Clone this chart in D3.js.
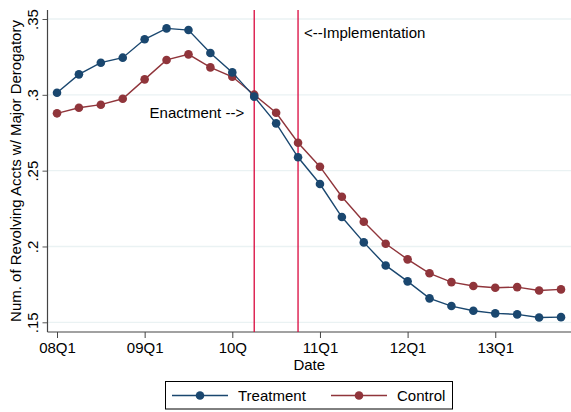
<!DOCTYPE html>
<html>
<head>
<meta charset="utf-8">
<script src="https://cdn.jsdelivr.net/npm/d3@7"></script>
<style>
  body { margin: 0; background: #fff; }
  text { font-family: "Liberation Sans", Arial, sans-serif; fill: #000; }
</style>
</head>
<body>
<svg id="vis"></svg>
<script>
const WIDTH = 571;
const HEIGHT = 412;

// quarters 08Q1 .. 13Q4
const quarters = d3.range(24);
const treatment = [0.3014, 0.3135, 0.3212, 0.3245, 0.3366, 0.3438, 0.3427, 0.3276,
                   0.3148, 0.2988, 0.2812, 0.2588, 0.2412, 0.2194, 0.2027, 0.1875,
                   0.1770, 0.1658, 0.1607, 0.1576, 0.1559, 0.1552, 0.1532, 0.1534];
const control = [0.2878, 0.2915, 0.2935, 0.2974, 0.3102, 0.3230, 0.3267, 0.3181,
                 0.3119, 0.3001, 0.2882, 0.2684, 0.2526, 0.2328, 0.2163, 0.2018,
                 0.1915, 0.1823, 0.1765, 0.1739, 0.1728, 0.1732, 0.1710, 0.1717];
const xTicks = [0, 4, 8, 12, 16, 20];
const xTickLabels = ["08Q1", "09Q1", "10Q", "11Q1", "12Q1", "13Q1"];
const yTicks = [0.15, 0.2, 0.25, 0.3, 0.35];
const yTickLabels = [".15", ".2", ".25", ".3", ".35"];
const events = [
  { q: 9, label: "Enactment -->" },
  { q: 11, label: "<--Implementation" }
];

const FS = 15;

const svg = d3.select("#vis")
    .attr("width", WIDTH)
    .attr("height", HEIGHT);

const plotLeft = 47.5, plotRight = 571, plotTop = 10, plotBottom = 332;

const x = d3.scaleLinear().domain([0, 23]).range([57, 561]);
const y = d3.scaleLinear().domain([0.15, 0.35]).range([322.3, 19]);

// gridlines
svg.append("g")
    .selectAll("line")
    .data(yTicks)
    .join("line")
    .attr("x1", plotLeft)
    .attr("x2", plotRight)
    .attr("y1", d => y(d))
    .attr("y2", d => y(d))
    .attr("stroke", "#eaf2f3")
    .attr("stroke-width", 1.3);

// y axis (labels rotated, Stata style)
const ejeY = d3.axisLeft(y)
    .tickValues(yTicks)
    .tickFormat((d, i) => yTickLabels[i])
    .tickSize(5);
const gy = svg.append("g")
    .attr("transform", `translate(${plotLeft},0)`)
    .call(ejeY);
gy.select(".domain").remove();
gy.selectAll(".tick line").attr("stroke", "#555");
gy.selectAll(".tick text")
    .attr("font-size", FS)
    .attr("transform", "rotate(-90)")
    .attr("x", 0)
    .attr("y", -10)
    .attr("dy", "0")
    .attr("text-anchor", "middle");
svg.append("line")
    .attr("x1", plotLeft).attr("x2", plotLeft)
    .attr("y1", plotTop).attr("y2", plotBottom)
    .attr("stroke", "#444").attr("stroke-width", 1.2);

// x axis
const ejeX = d3.axisBottom(x)
    .tickValues(xTicks)
    .tickFormat((d, i) => xTickLabels[i])
    .tickSize(6)
    .tickPadding(4);
const gx = svg.append("g")
    .attr("transform", `translate(0,${plotBottom})`)
    .call(ejeX);
gx.select(".domain").remove();
gx.selectAll(".tick line").attr("stroke", "#444");
gx.selectAll(".tick text").attr("font-size", FS);
svg.append("line")
    .attr("x1", plotLeft).attr("x2", plotRight)
    .attr("y1", plotBottom).attr("y2", plotBottom)
    .attr("stroke", "#444").attr("stroke-width", 1.2);

// event lines
svg.selectAll(".evento")
    .data(events)
    .join("line")
    .attr("class", "evento")
    .attr("x1", d => x(d.q))
    .attr("x2", d => x(d.q))
    .attr("y1", plotTop)
    .attr("y2", plotBottom)
    .attr("stroke", "#d9073d")
    .attr("stroke-width", 1.3);

svg.append("text")
    .attr("x", x(events[0].q) - 10)
    .attr("y", 118)
    .attr("text-anchor", "end")
    .attr("font-size", FS)
    .text(events[0].label);
svg.append("text")
    .attr("x", x(events[1].q) + 6)
    .attr("y", 38)
    .attr("font-size", FS)
    .text(events[1].label);

// series
const series = [
  { name: "Treatment", values: treatment, color: "#1a476f" },
  { name: "Control", values: control, color: "#90353b" }
];
const line = d3.line()
    .x((d, i) => x(quarters[i]))
    .y(d => y(d));

series.slice().reverse().forEach(s => {
    svg.append("path")
        .datum(s.values)
        .attr("d", line)
        .attr("fill", "none")
        .attr("stroke", s.color)
        .attr("stroke-width", 1.4);
    svg.append("g")
        .selectAll("circle")
        .data(s.values)
        .join("circle")
        .attr("cx", (d, i) => x(quarters[i]))
        .attr("cy", d => y(d))
        .attr("r", 4.3)
        .attr("fill", s.color);
});

// axis titles
svg.append("text")
    .attr("x", (plotLeft + plotRight) / 2)
    .attr("y", 370)
    .attr("text-anchor", "middle")
    .attr("font-size", FS)
    .text("Date");
svg.append("text")
    .attr("transform", `translate(21,${(plotTop + plotBottom) / 2}) rotate(-90)`)
    .attr("text-anchor", "middle")
    .attr("font-size", FS)
    .text("Num. of Revolving Accts w/ Major Derogatory");

// legend
const legend = svg.append("g");
legend.append("rect")
    .attr("x", 165.5).attr("y", 381.5)
    .attr("width", 287).attr("height", 27.5)
    .attr("fill", "#fff")
    .attr("stroke", "#000")
    .attr("stroke-width", 1);
const legendItems = [
  { s: series[0], x1: 172, x2: 228, tx: 238 },
  { s: series[1], x1: 331, x2: 387, tx: 397 }
];
legendItems.forEach(it => {
    legend.append("line")
        .attr("x1", it.x1).attr("x2", it.x2)
        .attr("y1", 395.5).attr("y2", 395.5)
        .attr("stroke", it.s.color).attr("stroke-width", 1.4);
    legend.append("circle")
        .attr("cx", (it.x1 + it.x2) / 2).attr("cy", 395.5)
        .attr("r", 4.3).attr("fill", it.s.color);
    legend.append("text")
        .attr("x", it.tx).attr("y", 401)
        .attr("font-size", FS)
        .text(it.s.name);
});
</script>
</body>
</html>
